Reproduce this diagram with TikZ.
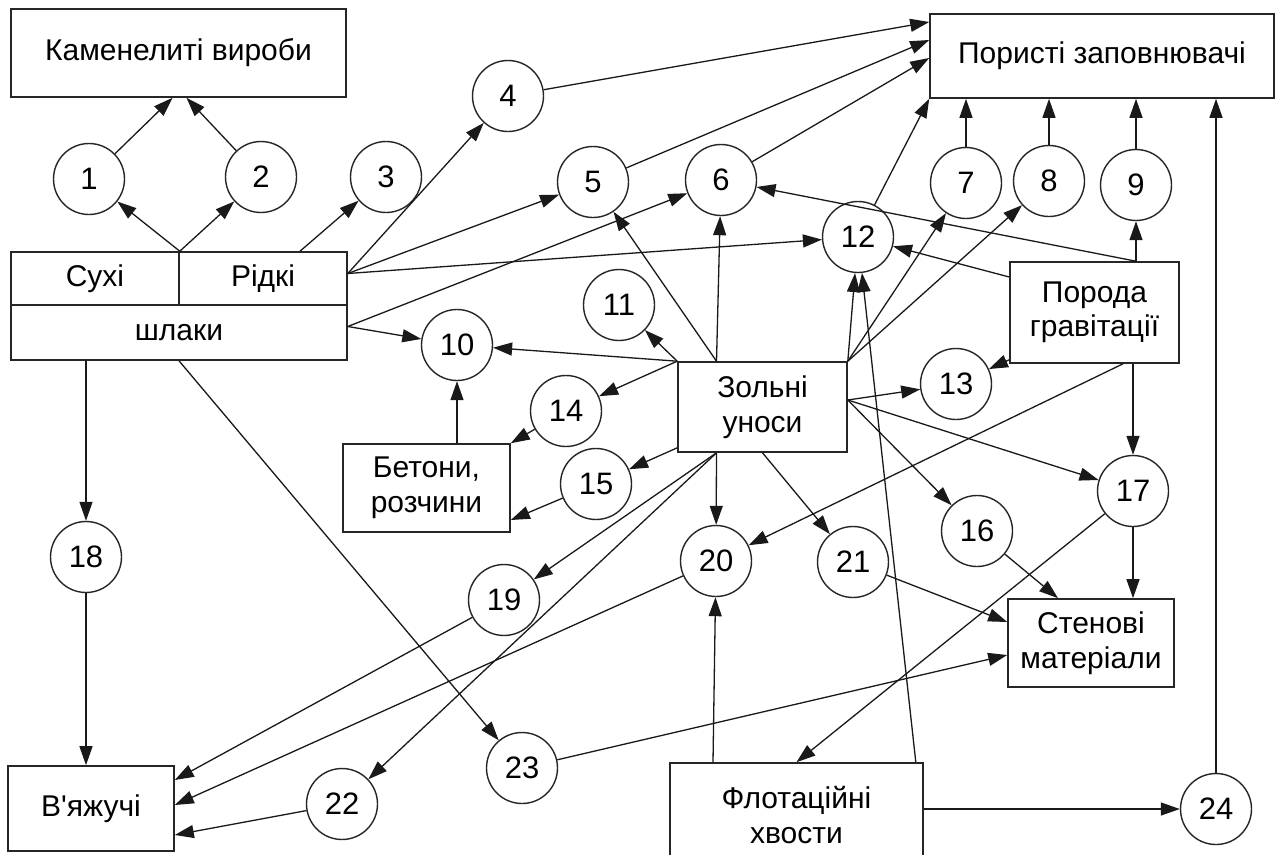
\documentclass[tikz,border=0pt]{standalone}
\usepackage{fontspec}
\setmainfont{Liberation Sans}[Ligatures=TeXOff]
\usetikzlibrary{arrows.meta}
\begin{document}
\begin{tikzpicture}[x=1pt,y=-1pt,
 box/.style={draw=black!85, line width=1.6pt, inner sep=0pt, align=center, font=\fontsize{30}{34.5}\selectfont},
 circ/.style={draw=black!85, circle, line width=1.4pt, minimum size=71pt, inner sep=0pt, font=\fontsize{31}{34}\selectfont},
 arr/.style={-{Triangle[length=19pt,width=13pt]}, line width=1.3pt, draw=black!90}]
\fill[white] (0,0) rectangle (1276,854);
\useasboundingbox (0,0) rectangle (1276,854);
% boxes
\node[box, minimum width=335pt, minimum height=88pt] (kam) at (178.5,53) {Каменелиті вироби};
\node[box, minimum width=168pt, minimum height=53pt] (sukh) at (95,278.5) {Сухі};
\node[box, minimum width=168pt, minimum height=53pt] (rid) at (263,278.5) {Рідкі};
\node[box, minimum width=336pt, minimum height=55pt] (shl) at (179,332.5) {шлаки};
\node[box, minimum width=344pt, minimum height=84pt] (por) at (1102,56) {Пористі заповнювачі};
\node[box, minimum width=169pt, minimum height=101pt] (gr) at (1094.5,312.5) {Порода\\гравітації};
\node[box, minimum width=169pt, minimum height=90pt] (zol) at (762.5,407) {Зольні\\уноси};
\node[box, minimum width=167pt, minimum height=88pt] (bet) at (426.5,488) {Бетони,\\розчини};
\node[box, minimum width=166pt, minimum height=88pt] (st) at (1091,643) {Стенові\\матеріали};
\node[box, minimum width=166pt, minimum height=85pt] (vya) at (91,808.5) {В'яжучі};
\node[box, minimum width=253pt, minimum height=104pt] (flo) at (796.5,815) {Флотаційні\\хвости};
% circles
\node[circ] (c1) at (89,179) {1};
\node[circ] (c2) at (261,177) {2};
\node[circ] (c3) at (386,177) {3};
\node[circ] (c4) at (508,96) {4};
\node[circ] (c5) at (593,182) {5};
\node[circ] (c6) at (721,180) {6};
\node[circ] (c7) at (966,183) {7};
\node[circ] (c8) at (1049,181) {8};
\node[circ] (c9) at (1136,185) {9};
\node[circ] (c10) at (457,345) {10};
\node[circ] (c11) at (619,305) {11};
\node[circ] (c12) at (858,237) {12};
\node[circ] (c13) at (956,384) {13};
\node[circ] (c14) at (566,411) {14};
\node[circ] (c15) at (596,484) {15};
\node[circ] (c16) at (977,531) {16};
\node[circ] (c17) at (1133,491) {17};
\node[circ] (c18) at (86,557) {18};
\node[circ] (c19) at (504,600) {19};
\node[circ] (c20) at (716,561) {20};
\node[circ] (c21) at (853,562) {21};
\node[circ] (c22) at (342,804) {22};
\node[circ] (c23) at (522,768) {23};
\node[circ] (c24) at (1216,809) {24};
% slag connectors
\draw[arr] (sukh.north east) -- (c1);
\draw[arr] (sukh.north east) -- (c2);
\draw[arr] (c1) -- ([xshift=-6pt]kam.south);
\draw[arr] (c2) -- ([xshift=8pt]kam.south);
\draw[arr] ([xshift=37pt]rid.north) -- (c3);
\draw[arr] ([yshift=5pt]rid.east) -- (c4);
\draw[arr] ([yshift=5pt]rid.east) -- (c5);
\draw[arr] ([yshift=5pt]rid.east) -- (c12);
\draw[arr] ([yshift=6pt]shl.east) -- (c6);
\draw[arr] ([yshift=6pt]shl.east) -- (c10);
\draw[arr] (shl.south -| c18) -- (c18);
\draw[arr] (c18) -- (c18 |- vya.north);
\draw[arr] (shl.south) -- (c23);
% porous aggregates
\draw[arr] (c4) -- ([yshift=34pt]por.west);
\draw[arr] (c5) -- ([yshift=16pt]por.west);
\draw[arr] (c6) -- ([yshift=-2pt]por.west);
\draw[arr] (c12) -- (por.south west);
\draw[arr] (c7) -- (c7 |- por.south);
\draw[arr] (c8) -- (c8 |- por.south);
\draw[arr] (c9) -- (c9 |- por.south);
\draw[arr] (c24) -- (c24 |- por.south);
% rock
\draw[arr] (gr.north -| c9) -- (c9);
\draw[arr] (gr.north -| c9) -- (c6);
\draw[arr] ([yshift=35.5pt]gr.west) -- (c12);
\draw[arr] ([yshift=4pt]gr.south west) -- (c13);
\draw[arr] (gr.south -| c17) -- (c17);
\draw[arr] ([xshift=28.5pt]gr.south) -- (c20);
% fly ash
\draw[arr] (zol.north west) -- (c10);
\draw[arr] (zol.north west) -- (c11);
\draw[arr] (zol.north west) -- (c14);
\draw[arr] ([xshift=-46pt]zol.north) -- (c5);
\draw[arr] ([xshift=-46pt]zol.north) -- (c6);
\draw[arr] (zol.north east) -- (c12);
\draw[arr] (zol.north east) -- (c7);
\draw[arr] (zol.north east) -- (c8);
\draw[arr] ([yshift=7pt]zol.east) -- (c13);
\draw[arr] ([yshift=7pt]zol.east) -- (c16);
\draw[arr] ([yshift=7pt]zol.east) -- (c17);
\draw[arr] ([yshift=5pt]zol.south west) -- (c15);
\draw[arr] ([xshift=-46pt]zol.south) -- (c19);
\draw[arr] ([xshift=-46pt]zol.south) -- (c20);
\draw[arr] ([xshift=-46pt]zol.south) -- (c22);
\draw[arr] (zol.south) -- (c21);
% concrete
\draw[arr] (bet.north -| c10) -- (c10);
\draw[arr] (c14) -- (bet.north east);
\draw[arr] (c15) -- ([yshift=-32pt]bet.east);
% binders
\draw[arr] (c19) -- ([yshift=28.5pt]vya.east);
\draw[arr] (c20) -- ([yshift=3.5pt]vya.east);
\draw[arr] (c22) -- ([yshift=-26.5pt]vya.east);
% wall materials
\draw[arr] (c21) -- ([yshift=21pt]st.west);
\draw[arr] (c23) -- ([yshift=-12pt]st.west);
\draw[arr] (c16) -- ([xshift=-33pt]st.north);
\draw[arr] (c17) -- (c17 |- st.north);
% flotation tailings
\draw[arr] (c17) -- (flo.north);
\draw[arr] ([xshift=-83.5pt]flo.north) -- (c20);
\draw[arr] ([xshift=-8pt]flo.north east) -- (c12);
\draw[arr] (flo.east |- c24) -- (c24);
\end{tikzpicture}
\end{document}
